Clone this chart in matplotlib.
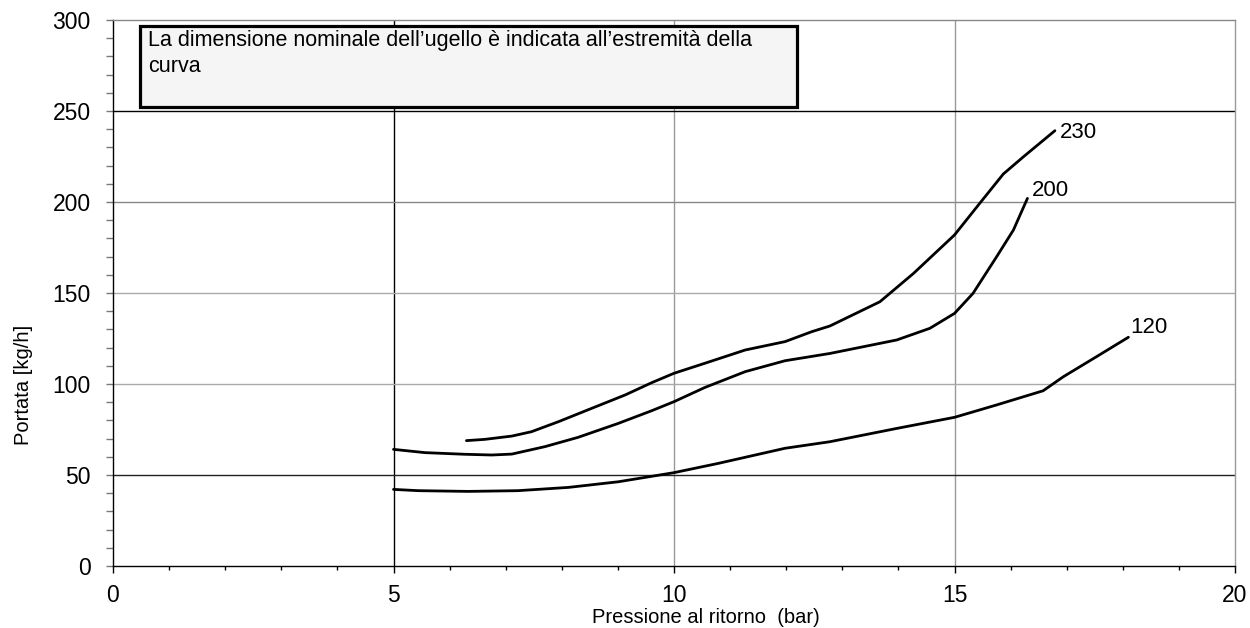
import matplotlib
matplotlib.use('Agg')
import matplotlib.pyplot as plt
import matplotlib.patches as mpatches
from matplotlib.ticker import MultipleLocator

plt.rcParams['font.family'] = ['Liberation Sans', 'DejaVu Sans']

# curve data: pressure (bar) vs flow (kg/h)
x_120 = [5.0, 5.44, 6.33, 7.22, 8.12, 9.01, 10.0, 10.79, 11.98, 12.78, 13.97, 15.0, 15.75, 16.58, 16.94, 17.53, 18.1]
y_120 = [42.1, 41.4, 41.0, 41.4, 43.2, 46.3, 51.3, 56.4, 64.7, 68.3, 75.6, 81.7, 88.5, 96.3, 104.0, 115.0, 125.7]

x_200 = [5.0, 5.56, 6.27, 6.75, 7.11, 7.7, 8.29, 9.01, 9.6, 10.0, 10.55, 11.27, 11.98, 12.78,
         13.97, 14.56, 15.0, 15.33, 15.75, 16.05, 16.3]
y_200 = [64.1, 62.3, 61.4, 61.0, 61.5, 65.6, 70.7, 78.4, 85.3, 90.3, 98.1, 106.8, 112.8, 116.8,
         124.2, 130.6, 138.8, 149.8, 169.9, 184.6, 202.0]

x_230 = [6.3, 6.63, 7.11, 7.46, 7.94, 8.53, 9.13, 9.6, 10.0, 10.55, 11.27, 11.98, 12.45, 12.78,
         13.67, 14.27, 15.0, 15.45, 15.87, 16.23, 16.79]
y_230 = [68.9, 69.6, 71.4, 73.8, 79.3, 86.6, 94.0, 100.7, 105.9, 111.4, 118.7, 123.3, 128.7, 131.9,
         145.2, 160.8, 181.9, 199.3, 215.4, 224.9, 239.2]

curve_names = ['120', '200', '230']

note = "La dimensione nominale dell\u2019ugello è indicata all\u2019estremità della\ncurva"

fig = plt.figure(figsize=(12.5, 6.28), dpi=100)
ax = fig.add_axes([0.0904, 0.0987, 0.8976, 0.8694])

ax.set_xlim(0, 20)
ax.set_ylim(0, 300)

# grid lines (some darker than others, as in the original)
for gx, gc in [(5, 'black'), (10, '#999999'), (15, '#999999')]:
    ax.axvline(gx, color=gc, linewidth=1.0, zorder=1)
for gy, gc in [(50, '#222222'), (100, '#aaaaaa'), (150, '#aaaaaa'), (200, '#888888'), (250, 'black')]:
    ax.axhline(gy, color=gc, linewidth=1.0, zorder=1)

for xs, ys in [(x_120, y_120), (x_200, y_200), (x_230, y_230)]:
    ax.plot(xs, ys, color='black', linewidth=2.0, solid_capstyle='round',
            solid_joinstyle='round', zorder=3)

# labels at the end of each curve
ax.text(18.13, 128, curve_names[0], fontsize=16, va='baseline', ha='left')
ax.text(16.38, 203.3, curve_names[1], fontsize=16, va='baseline', ha='left')
ax.text(16.88, 235.2, curve_names[2], fontsize=16, va='baseline', ha='left')

# note box
box = mpatches.Rectangle((0.48, 252.2), 11.71, 44.5, facecolor='#f5f5f5',
                         edgecolor='black', linewidth=2.3, zorder=4)
ax.add_patch(box)
ax.text(0.62, 294.5, note, fontsize=15.5, va='top', ha='left', linespacing=1.3, zorder=5)

# axes styling
ax.spines['top'].set_color('#888888')
ax.spines['right'].set_color('#999999')
ax.spines['left'].set_color('black')
ax.spines['bottom'].set_color('black')
for s in ax.spines.values():
    s.set_linewidth(1.0)

ax.xaxis.set_major_locator(MultipleLocator(5))
ax.xaxis.set_minor_locator(MultipleLocator(1))
ax.yaxis.set_major_locator(MultipleLocator(50))
ax.yaxis.set_minor_locator(MultipleLocator(10))

ax.tick_params(axis='both', which='major', labelsize=16.5, length=5, width=1.0, pad=8)
ax.tick_params(axis='both', which='minor', length=3, width=1.0)
ax.tick_params(axis='y', which='both', color='#777777', length=5)
ax.tick_params(axis='y', which='major', pad=11)

ax.set_xlabel('Pressione al ritorno  (bar)', fontsize=14.5)
ax.xaxis.set_label_coords(0.5285, -0.076)
ax.set_ylabel('Portata [kg/h]', fontsize=14.5)
ax.yaxis.set_label_coords(-0.0713, 0.331)

fig.savefig('out.png', dpi=100)
